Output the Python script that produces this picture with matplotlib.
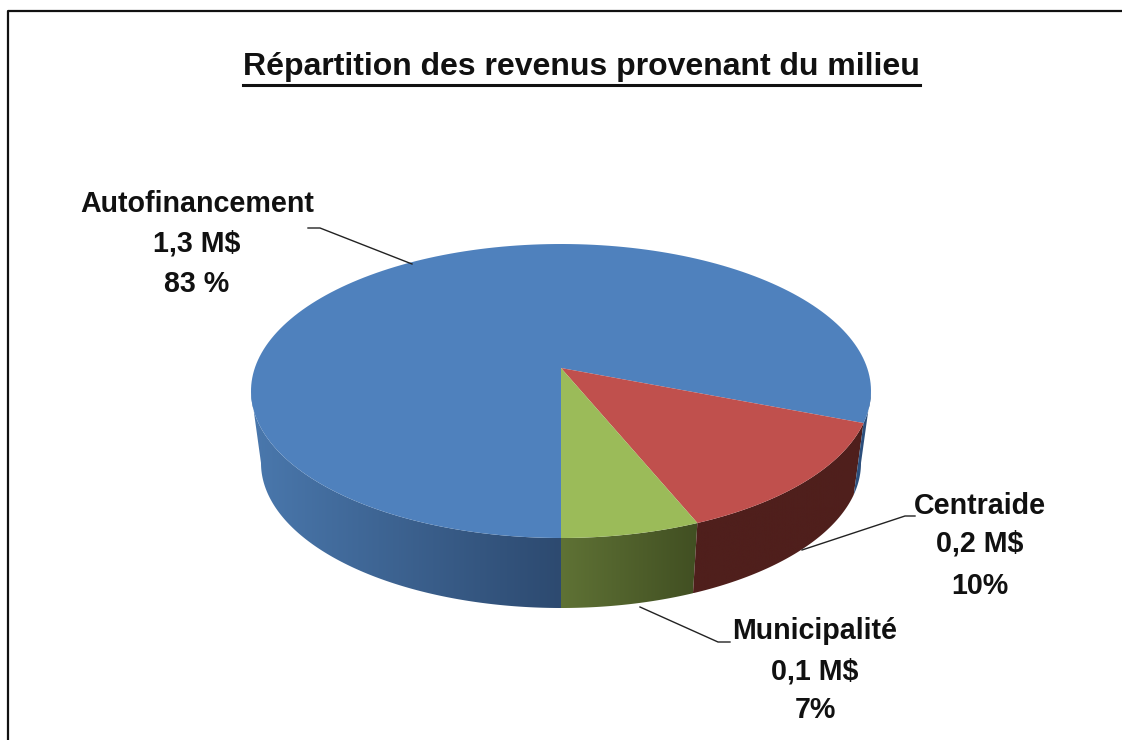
import numpy as np
import matplotlib
matplotlib.use('Agg')
import matplotlib.pyplot as plt
from matplotlib.colors import LinearSegmentedColormap
from matplotlib.patches import Polygon

# slice shares as drawn in the picture (the printed labels say 83/10/7)
categories = ['Municipalité', 'Centraide', 'Autofinancement']
shares = [7.25, 14.25, 78.5]
amounts = ['0,1 M$', '0,2 M$', '1,3 M$']
percents = ['7%', '10%', '83 %']
title = 'Répartition des revenus provenant du milieu'

top_colors = ['#9bbb59', '#c0504d', '#4f81bd']
side_colors = [('#5f7235', '#414f22'), ('#4f1f1c', '#4f1f1c'), ('#4a78ad', '#2d4a70')]

# pie geometry in pixels, the lower rim is a bit narrower (perspective)
cx, cy, rx, ry = 561, 391, 310, 147
cy_low, rx_low, ry_low = 463, 300, 145
apex_y = 368


def rim(a1, a2, n=200):
    a = np.radians(np.linspace(a1, a2, n))
    return cx + rx * np.cos(a), cy - ry * np.sin(a)


def low_rim(a1, a2, n=200):
    a = np.radians(np.linspace(a1, a2, n))
    return cx + rx_low * np.cos(a), cy_low - ry_low * np.sin(a)


plt.rcParams['font.family'] = ['Liberation Sans', 'DejaVu Sans']
fig = plt.figure(figsize=(11.22, 7.40), dpi=100)
ax = fig.add_axes([0, 0, 1, 1])


def side_wall(a1, a2, colors):
    # gradient wall between the two rims, only the visible front part
    a1, a2 = max(a1, 180), min(a2, 360)
    if a2 <= a1:
        return
    x, y = rim(a1, a2)
    xl, yl = low_rim(a1, a2)
    pts = np.r_[np.c_[x, y], np.c_[xl, yl][::-1]]
    cmap = LinearSegmentedColormap.from_list('w', colors)
    im = ax.imshow(np.linspace(0, 1, 256)[None, :], cmap=cmap, aspect='auto',
                   extent=[pts[:, 0].min(), pts[:, 0].max(), pts[:, 1].max(), pts[:, 1].min()],
                   zorder=2)
    im.set_clip_path(Polygon(pts, transform=ax.transData))


# start at the bottom of the pie and go round counter-clockwise
angles = 270 + np.r_[0, np.cumsum(shares)] * 3.6

for i in range(len(shares)):
    a1, a2 = angles[i], angles[i + 1]
    if i == 2:
        # blue wraps around: right sliver, then the big left part
        side_wall(a1, 360, ('#2c4f7c', '#2c4f7c'))
        side_wall(180, 270, side_colors[i])
    else:
        side_wall(a1, a2, side_colors[i])

for i in [2, 1, 0]:
    x, y = rim(angles[i], angles[i + 1])
    ax.fill(np.r_[cx, x], np.r_[apex_y, y], color=top_colors[i], lw=0, zorder=3)

# frame, only left and top are visible
ax.plot([8, 8, 1122], [740, 11, 11], color='#111111', lw=1.6, zorder=5)

ax.text(581.5, 67, title, ha='center', va='center', fontsize=23, fontweight='bold',
        color='#111111', zorder=6)
ax.plot([243, 920], [85, 85], color='#111111', lw=2.2, zorder=6)

# labels with leader lines
label_x = [815, 980, 197]
label_y = [(631, 671, 710), (506, 544, 586), (204, 244, 284)]
leaders = [([640, 718, 730], [607, 642, 642]),
           ([802, 905, 915], [550, 516, 516]),
           ([308, 320, 412], [228, 228, 264])]
for i in range(3):
    lines = (categories[i], amounts[i], percents[i])
    for txt, ty in zip(lines, label_y[i]):
        ax.text(label_x[i], ty, txt, ha='center', va='center', fontsize=20.6, fontweight='bold',
                color='#111111', zorder=6)
    ax.plot(leaders[i][0], leaders[i][1], color='#222222', lw=1.0, zorder=4)

ax.set_xlim(0, 1122)
ax.set_ylim(740, 0)
ax.axis('off')

fig.savefig('out.png', dpi=100, facecolor='white')
plt.close(fig)
